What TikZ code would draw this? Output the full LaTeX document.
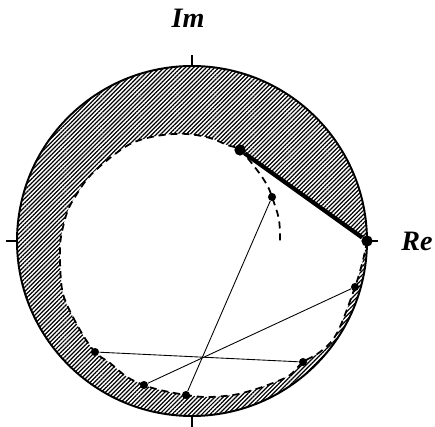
\documentclass[tikz,border=0pt]{standalone}
\usepackage{fontspec}
\setmainfont{Liberation Serif}
\usepackage{tikz}
\usetikzlibrary{patterns.meta}

\tikzset{
  dot/.style={fill,circle,inner sep=0pt,minimum size=4.6pt},
  bigdot/.style={fill,circle,inner sep=0pt,minimum size=6.4pt},
  axislabel/.style={font=\fontsize{16}{18}\selectfont\bfseries\itshape},
  hatch/.style={pattern={Lines[angle=45,distance=1.7pt,line width=0.7pt]}},
  tickmark/.style={line width=1.7pt},
  boundary/.style={line width=1pt,dash pattern=on 4pt off 2.8pt},
}

\begin{document}
\begin{tikzpicture}
    \useasboundingbox (-3.84,-3.70) rectangle (4.86,4.82);
    % hatched zone
    \path[hatch,even odd rule] (0,0) circle (3.5)
        plot[smooth,tension=0.6] coordinates {(3.5,0) (3.42,-0.38) (3.26,-0.92) (2.90,-1.84) (2.56,-2.22)
        (2.22,-2.42) (1.96,-2.68) (1.62,-2.84) (1.22,-2.98) (0.82,-3.08) (0.30,-3.12) (-0.12,-3.08)
        (-0.64,-2.98) (-0.96,-2.88) (-1.30,-2.72) (-1.64,-2.44) (-1.94,-2.22) (-2.24,-1.78) (-2.54,-1.18)
        (-2.62,-0.78) (-2.64,-0.12) (-2.58,0.28) (-2.48,0.62) (-2.34,0.88) (-2.08,1.26) (-1.74,1.58)
        (-1.34,1.88) (-1.04,2.02) (-0.58,2.12) (-0.10,2.14) (0.36,2.06) (0.70,1.92) (0.96,1.82)} -- cycle;
    % inner curve
    \draw[boundary] plot[smooth,tension=0.6] coordinates {(3.5,0) (3.42,-0.38) (3.26,-0.92) (2.90,-1.84) (2.56,-2.22)
        (2.22,-2.42) (1.96,-2.68) (1.62,-2.84) (1.22,-2.98) (0.82,-3.08) (0.30,-3.12) (-0.12,-3.08)
        (-0.64,-2.98) (-0.96,-2.88) (-1.30,-2.72) (-1.64,-2.44) (-1.94,-2.22) (-2.24,-1.78) (-2.54,-1.18)
        (-2.62,-0.78) (-2.64,-0.12) (-2.58,0.28) (-2.48,0.62) (-2.34,0.88) (-2.08,1.26) (-1.74,1.58)
        (-1.34,1.88) (-1.04,2.02) (-0.58,2.12) (-0.10,2.14) (0.36,2.06) (0.70,1.92) (0.96,1.82)
        (1.30,1.42) (1.50,1.12) (1.60,0.88) (1.74,0.42) (1.76,-0.08)};
    \draw[line width=1.1pt] (0,0) circle (3.5);
    \foreach \a in {0,90,180,270}
        \draw[tickmark] (\a:3.5) -- (\a:3.72);
    \node[axislabel] (im) at (-0.08,4.46) {Im};
    \node[axislabel] (re) at (4.5,0) {Re};
    % points
    \node[bigdot] (r) at (3.5,0) {};
    \node[bigdot] (a) at (0.96,1.82) {};
    \node[dot] (d1) at (3.26,-0.92) {};
    \node[dot] (d2) at (2.22,-2.42) {};
    \node[dot] (d3) at (-0.12,-3.08) {};
    \node[dot] (d4) at (-0.96,-2.88) {};
    \node[dot] (d5) at (-1.94,-2.22) {};
    \node[dot] (d6) at (1.60,0.88) {};
    \draw[line width=2.4pt] (a) -- (r);
    \draw[line width=0.5pt] (d6) -- (d3);
    \draw[line width=0.5pt] (d5) -- (d2);
    \draw[line width=0.5pt] (d4) -- (d1);
\end{tikzpicture}
\end{document}
